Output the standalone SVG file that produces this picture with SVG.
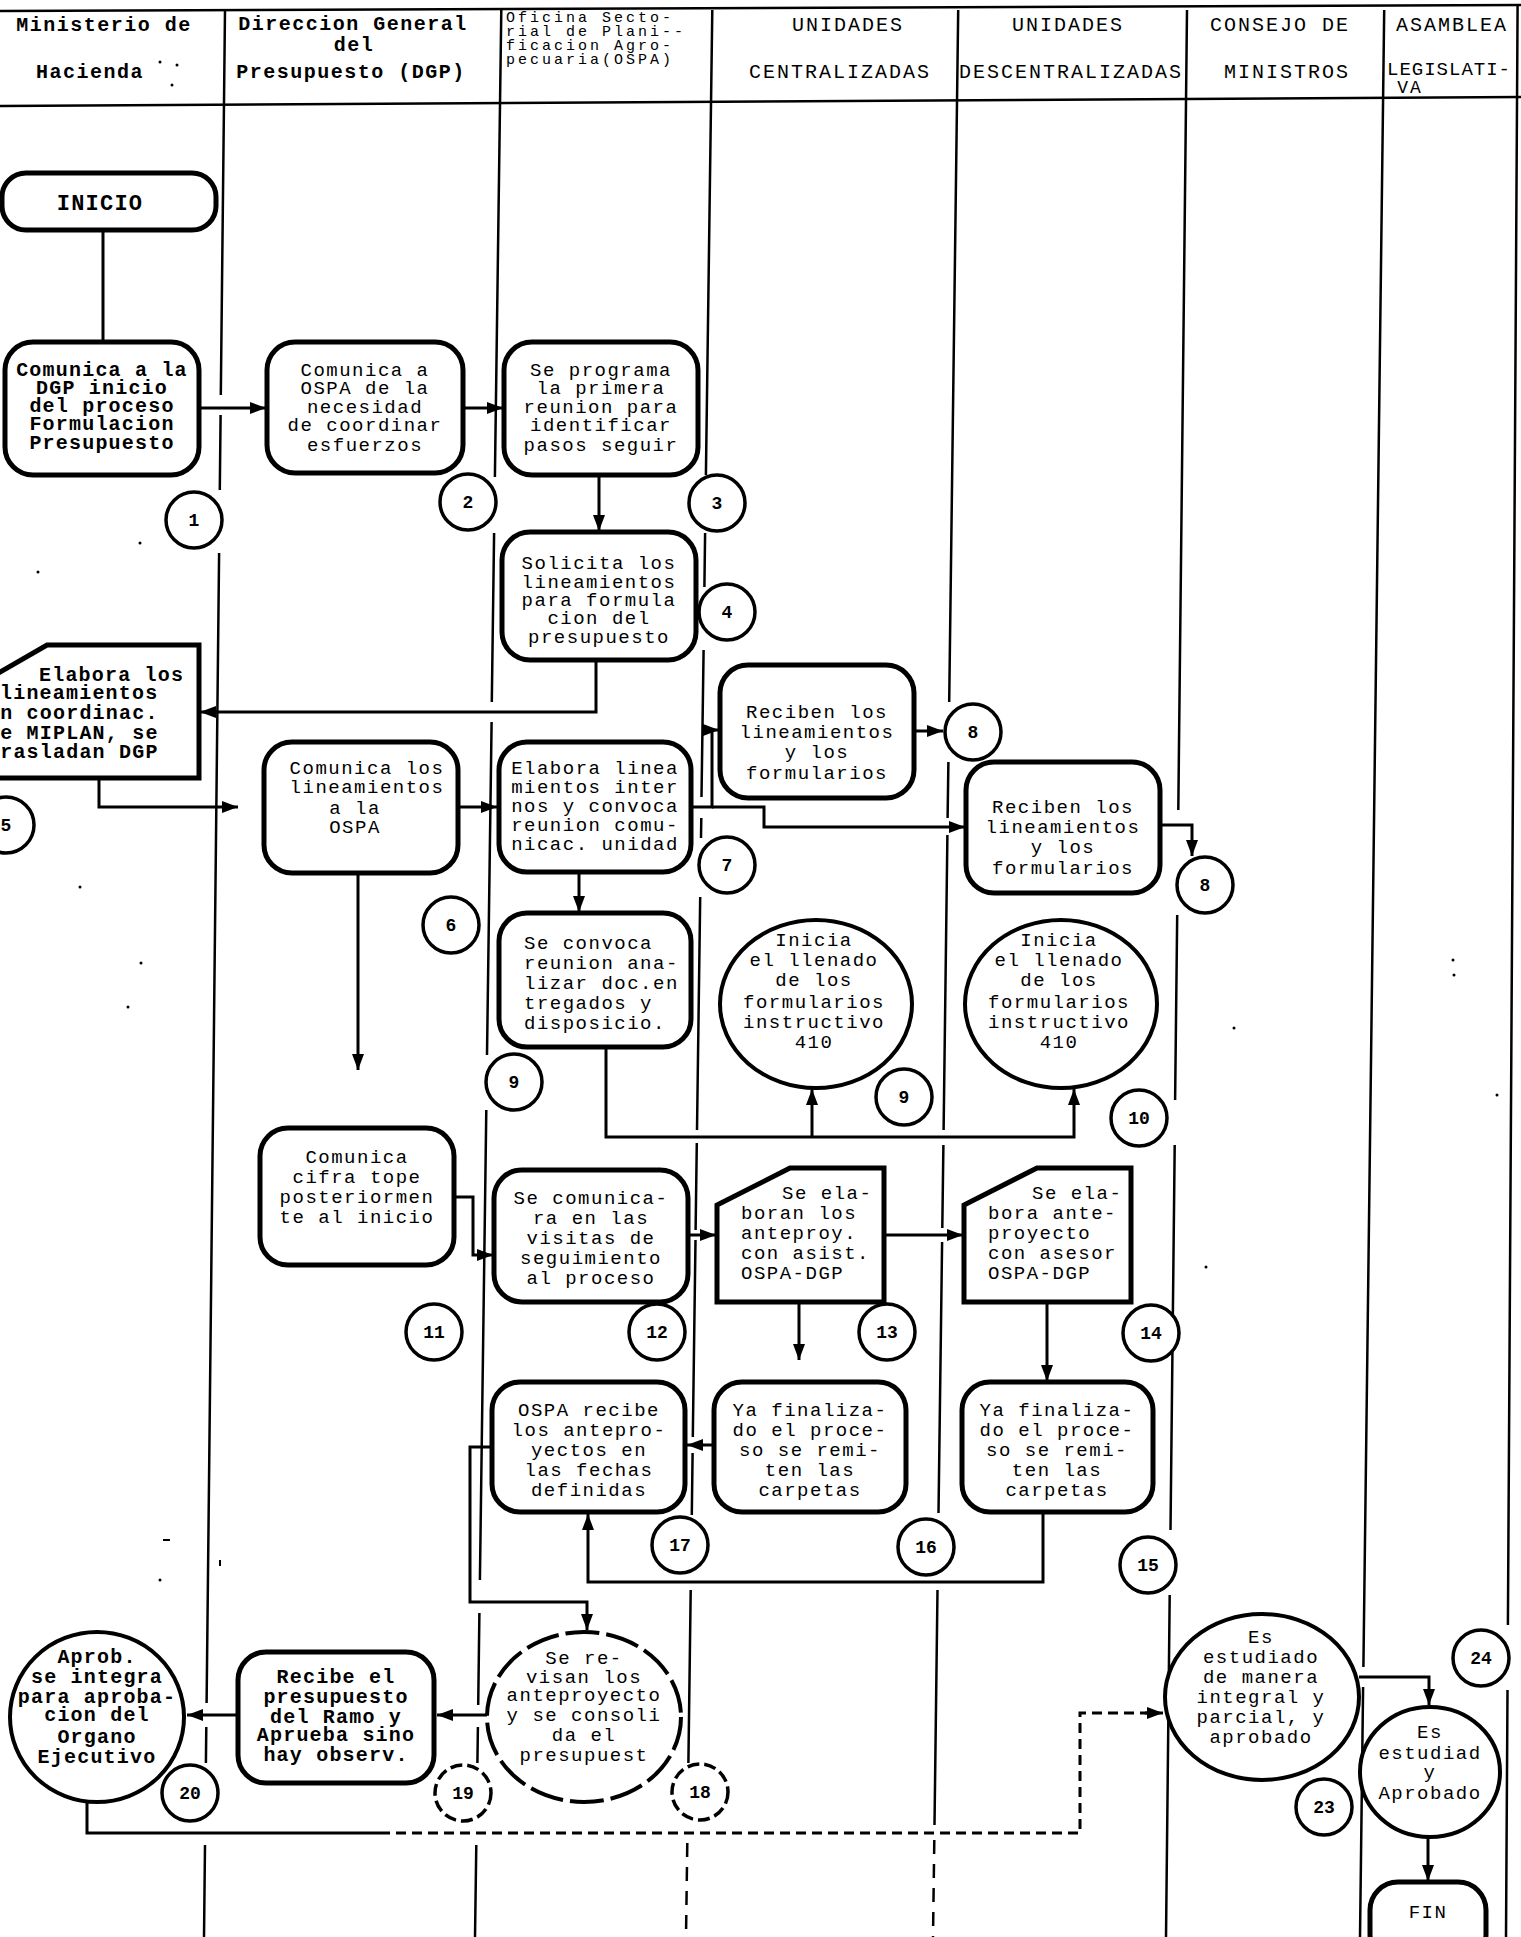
<svg xmlns="http://www.w3.org/2000/svg" width="1521" height="1937" viewBox="0 0 1521 1937">
<defs>
<style>
.ln{stroke:#000;stroke-width:2.5;fill:none}
.dl{stroke:#000;stroke-width:2.5;fill:none;stroke-dasharray:14 10}
.bx{stroke:#000;stroke-width:5;fill:#fff}
.el{stroke:#000;stroke-width:4;fill:#fff}
.ed{stroke:#000;stroke-width:4;fill:#fff;stroke-dasharray:34 7}
.nc{stroke:#000;stroke-width:3.5;fill:#fff}
.nd{stroke:#000;stroke-width:3.5;fill:#fff;stroke-dasharray:12 5}
.cn{stroke:#000;stroke-width:3;fill:none;marker-end:url(#ah)}
.cp{stroke:#000;stroke-width:3;fill:none}
.cd{stroke:#000;stroke-width:3;fill:none;stroke-dasharray:10 6}
text{font-family:"Liberation Mono","DejaVu Sans Mono",monospace;fill:#000}
.t{font-size:19px;letter-spacing:1.5px;text-anchor:middle}
.tl{font-size:19px;letter-spacing:1.5px;text-anchor:start}
.b{font-size:20px;letter-spacing:1.2px;font-weight:bold;text-anchor:middle}
.bl{font-size:20px;letter-spacing:1.2px;font-weight:bold;text-anchor:start}
.n{font-size:18px;font-weight:bold;text-anchor:middle}
.h{font-size:20px;letter-spacing:2px;text-anchor:middle}
.hb{font-size:20px;letter-spacing:1.5px;font-weight:bold;text-anchor:middle}
.hs{font-size:15px;letter-spacing:3px;text-anchor:start}
</style>
<marker id="ah" viewBox="0 0 16 12" refX="16" refY="6" markerWidth="16" markerHeight="12" markerUnits="userSpaceOnUse" orient="auto"><path d="M0,0 L16,6 L0,12 Z" fill="#000"/></marker>
</defs>
<rect width="1521" height="1937" fill="#fff"/>

<g id="header">
<path class="ln" d="M0,11 L1521,5"/>
<path class="ln" d="M0,106 L1521,97"/>
<text class="hb" x="104" y="31">Ministerio de</text>
<text class="hb" x="90" y="78">Hacienda</text>
<text class="hb" x="353" y="30">Direccion General</text>
<text class="hb" x="354" y="51">del</text>
<text class="hb" x="351" y="78">Presupuesto (DGP)</text>
<text class="hs" x="506" y="22">Oficina Secto-</text>
<text class="hs" x="506" y="36">rial de Plani--</text>
<text class="hs" x="506" y="50">ficacion Agro-</text>
<text class="hs" x="506" y="64">pecuaria(OSPA)</text>
<text class="h" x="848" y="31">UNIDADES</text>
<text class="h" x="840" y="78">CENTRALIZADAS</text>
<text class="h" x="1068" y="31">UNIDADES</text>
<text class="h" x="1071" y="78">DESCENTRALIZADAS</text>
<text class="h" x="1280" y="31">CONSEJO DE</text>
<text class="h" x="1287" y="78">MINISTROS</text>
<text class="h" x="1452" y="31">ASAMBLEA</text>
<text x="1387" y="75" style="font-size:19px;letter-spacing:1px">LEGISLATI-</text>
<text class="h" x="1410" y="93" style="font-size:18px">VA</text>
</g>

<g id="lanes">
<path class="ln" d="M225,10 L220.8,395 M220.6,415 L219.8,490 M219.1,553 L206.6,1703 M206.3,1727 L205.9,1763 M205,1845 L204,1937"/>
<path class="ln" d="M501.3,10 L494.9,477 M494.1,533 L491.8,702 M491.6,722 L487,1055 M486.3,1110 L479.9,1580 M479.4,1613 L478.2,1705 M477.9,1727 L477.4,1763 M476.3,1845 L475,1937"/>
<path class="ln" d="M712.3,10 L705.9,475 M705.1,533 L704.4,587 M703.6,650 L701.5,797 M701.3,818 L701,838 M700.2,897 L697,1130 M696.8,1143 L695.6,1230 M695.5,1240 L692.8,1437 M692.6,1453 L691.8,1515 M690.7,1590 L688.4,1763"/>
<path class="dl" d="M687.3,1843 L686,1937"/>
<path class="ln" d="M958.2,10 L949.2,702 M948.4,762 L947.6,818 M947.4,835 L943.6,1130 M943.4,1145 L942.3,1228 M942.1,1242 L938.5,1513 M937.5,1590 L934.5,1825"/>
<path class="dl" d="M934.3,1840 L933,1937"/>
<path class="ln" d="M1187,10 L1178.3,810 M1177.2,915 L1175.1,1100 M1174.7,1145 L1170.5,1530 M1169.7,1595 L1166,1937"/>
<path class="ln" d="M1384.2,10 L1363.4,1667 M1363.1,1687 L1360,1937"/>
<path class="ln" d="M1517.6,5 L1507.9,1625 M1507.5,1690 L1506,1937"/>
</g>

<g id="connectors">
<path class="cp" d="M103,230 V342"/>
<path class="cn" d="M199,408 H266"/>
<path class="cn" d="M463,408 H503"/>
<path class="cn" d="M599,475 V531"/>
<path class="cn" d="M596,660 V712 H200"/>
<path class="cn" d="M99,778 V807 H238"/>
<path class="cn" d="M458,807 H497"/>
<path class="cn" d="M358,873 V1070"/>
<path class="cn" d="M691,807 H712 V730 H719"/>
<path class="cn" d="M712,807 H764 V827 H965"/>
<path class="cn" d="M914,731 H943"/>
<path class="cn" d="M1160,825 H1192 V856"/>
<path class="cn" d="M579,872 V912"/>
<path class="cn" d="M606,1047 V1137 H1074 V1089"/>
<path class="cn" d="M812,1137 V1089"/>
<path class="cn" d="M454,1197 H473 V1255 H493"/>
<path class="cn" d="M688,1235 H716"/>
<path class="cn" d="M884,1235 H963"/>
<path class="cn" d="M799,1302 V1360"/>
<path class="cn" d="M1047,1302 V1381"/>
<path class="cn" d="M714,1445 H687"/>
<path class="cn" d="M1043,1512 V1582 H588 V1514"/>
<path class="cn" d="M492,1447 H470 V1602 H587 V1630"/>
<path class="cn" d="M487,1715 H437"/>
<path class="cn" d="M238,1715 H187"/>
<path class="cp" d="M87,1802 V1833 H380"/>
<path class="cd" d="M380,1833 H1080 V1713 H1150"/>
<path class="cn" d="M1145,1713 H1163"/>
<path class="cn" d="M1359,1677 H1429 V1705"/>
<path class="cn" d="M1428,1837 V1881"/>
</g>

<g id="n-inicio">
<rect class="bx" x="2" y="173" width="214" height="57" rx="24"/>
<text class="b" x="100" y="210" style="font-size:22px">INICIO</text>
</g>

<g id="n1">
<rect class="bx" x="5" y="342" width="194" height="133" rx="28"/>
<text class="b" x="102" y="376">Comunica a la</text>
<text class="b" x="102" y="394">DGP inicio</text>
<text class="b" x="102" y="412">del proceso</text>
<text class="b" x="102" y="430">Formulacion</text>
<text class="b" x="102" y="449">Presupuesto</text>
</g>
<g id="c1"><ellipse class="nc" cx="194" cy="520" rx="28" ry="28"/><text class="n" x="194" y="526">1</text></g>

<g id="n2">
<rect class="bx" x="267" y="342" width="196" height="131" rx="28"/>
<text class="t" x="365" y="376">Comunica a</text>
<text class="t" x="365" y="394">OSPA de la</text>
<text class="t" x="365" y="413">necesidad</text>
<text class="t" x="365" y="431">de coordinar</text>
<text class="t" x="365" y="451">esfuerzos</text>
</g>
<g id="c2"><ellipse class="nc" cx="468" cy="502" rx="28" ry="28"/><text class="n" x="468" y="508">2</text></g>

<g id="n3">
<rect class="bx" x="504" y="342" width="194" height="133" rx="28"/>
<text class="t" x="601" y="376">Se programa</text>
<text class="t" x="601" y="394">la primera</text>
<text class="t" x="601" y="413">reunion para</text>
<text class="t" x="601" y="431">identificar</text>
<text class="t" x="601" y="451">pasos seguir</text>
</g>
<g id="c3"><ellipse class="nc" cx="717" cy="503" rx="28" ry="28"/><text class="n" x="717" y="509">3</text></g>

<g id="n4">
<rect class="bx" x="502" y="532" width="194" height="128" rx="28"/>
<text class="t" x="599" y="569">Solicita los</text>
<text class="t" x="599" y="588">lineamientos</text>
<text class="t" x="599" y="606">para formula</text>
<text class="t" x="599" y="624">cion del</text>
<text class="t" x="599" y="643">presupuesto</text>
</g>
<g id="c4"><ellipse class="nc" cx="727" cy="612" rx="28" ry="28"/><text class="n" x="727" y="618">4</text></g>

<g id="n5">
<path class="bx" d="M47,645 L199,645 L199,778 L-5,778 L-5,675 Z"/>
<text class="bl" x="39" y="681">Elabora los</text>
<text class="bl" x="0" y="699">lineamientos</text>
<text class="bl" x="-13" y="719">en coordinac.</text>
<text class="bl" x="-13" y="739">de MIPLAN, se</text>
<text class="bl" x="-13" y="758">trasladan DGP</text>
</g>
<g id="c5"><ellipse class="nc" cx="6" cy="825" rx="28" ry="28"/><text class="n" x="6" y="831">5</text></g>

<g id="n6">
<rect class="bx" x="264" y="742" width="194" height="131" rx="28"/>
<text class="t" x="367" y="774">Comunica los</text>
<text class="t" x="367" y="793">lineamientos</text>
<text class="t" x="355" y="814">a la</text>
<text class="t" x="355" y="833">OSPA</text>
</g>
<g id="c6"><ellipse class="nc" cx="451" cy="925" rx="28" ry="28"/><text class="n" x="451" y="931">6</text></g>

<g id="n7">
<rect class="bx" x="499" y="742" width="192" height="130" rx="28"/>
<text class="t" x="595" y="774">Elabora linea</text>
<text class="t" x="595" y="793">mientos inter</text>
<text class="t" x="595" y="812">nos y convoca</text>
<text class="t" x="595" y="831">reunion comu-</text>
<text class="t" x="595" y="850">nicac. unidad</text>
</g>
<g id="c7"><ellipse class="nc" cx="727" cy="865" rx="28" ry="28"/><text class="n" x="727" y="871">7</text></g>

<g id="n8a">
<rect class="bx" x="720" y="665" width="194" height="133" rx="28"/>
<text class="t" x="817" y="718">Reciben los</text>
<text class="t" x="817" y="738">lineamientos</text>
<text class="t" x="817" y="758">y los</text>
<text class="t" x="817" y="779">formularios</text>
</g>
<g id="c8a"><ellipse class="nc" cx="973" cy="732" rx="28" ry="28"/><text class="n" x="973" y="738">8</text></g>

<g id="n8b">
<rect class="bx" x="966" y="762" width="194" height="131" rx="28"/>
<text class="t" x="1063" y="813">Reciben los</text>
<text class="t" x="1063" y="833">lineamientos</text>
<text class="t" x="1063" y="853">y los</text>
<text class="t" x="1063" y="874">formularios</text>
</g>
<g id="c8b"><ellipse class="nc" cx="1205" cy="885" rx="28" ry="28"/><text class="n" x="1205" y="891">8</text></g>

<g id="n9">
<rect class="bx" x="499" y="913" width="192" height="134" rx="28"/>
<text class="tl" x="524" y="949">Se convoca</text>
<text class="tl" x="524" y="969">reunion ana-</text>
<text class="tl" x="524" y="989">lizar doc.en</text>
<text class="tl" x="524" y="1009">tregados y</text>
<text class="tl" x="524" y="1029">disposicio.</text>
</g>
<g id="c9a"><ellipse class="nc" cx="514" cy="1082" rx="28" ry="28"/><text class="n" x="514" y="1088">9</text></g>

<g id="n9b">
<ellipse class="el" cx="816" cy="1004" rx="96" ry="84"/>
<text class="t" x="814" y="946">Inicia</text>
<text class="t" x="814" y="966">el llenado</text>
<text class="t" x="814" y="986">de los</text>
<text class="t" x="814" y="1008">formularios</text>
<text class="t" x="814" y="1028">instructivo</text>
<text class="t" x="814" y="1048">410</text>
</g>
<g id="c9b"><ellipse class="nc" cx="904" cy="1097" rx="28" ry="28"/><text class="n" x="904" y="1103">9</text></g>

<g id="n10">
<ellipse class="el" cx="1061" cy="1004" rx="96" ry="84"/>
<text class="t" x="1059" y="946">Inicia</text>
<text class="t" x="1059" y="966">el llenado</text>
<text class="t" x="1059" y="986">de los</text>
<text class="t" x="1059" y="1008">formularios</text>
<text class="t" x="1059" y="1028">instructivo</text>
<text class="t" x="1059" y="1048">410</text>
</g>
<g id="c10"><ellipse class="nc" cx="1139" cy="1118" rx="28" ry="28"/><text class="n" x="1139" y="1124">10</text></g>

<g id="n11">
<rect class="bx" x="260" y="1128" width="194" height="137" rx="28"/>
<text class="t" x="357" y="1163">Comunica</text>
<text class="t" x="357" y="1183">cifra tope</text>
<text class="t" x="357" y="1203">posteriormen</text>
<text class="t" x="357" y="1223">te al inicio</text>
</g>
<g id="c11"><ellipse class="nc" cx="434" cy="1332" rx="28" ry="28"/><text class="n" x="434" y="1338">11</text></g>

<g id="n12">
<rect class="bx" x="494" y="1170" width="194" height="132" rx="28"/>
<text class="t" x="591" y="1204">Se comunica-</text>
<text class="t" x="591" y="1224">ra en las</text>
<text class="t" x="591" y="1244">visitas de</text>
<text class="t" x="591" y="1264">seguimiento</text>
<text class="t" x="591" y="1284">al proceso</text>
</g>
<g id="c12"><ellipse class="nc" cx="657" cy="1332" rx="28" ry="28"/><text class="n" x="657" y="1338">12</text></g>

<g id="n13">
<path class="bx" d="M790,1168 H884 V1302 H717 V1205 Z"/>
<text class="tl" x="782" y="1199">Se ela-</text>
<text class="tl" x="741" y="1219">boran los</text>
<text class="tl" x="741" y="1239">anteproy.</text>
<text class="tl" x="741" y="1259">con asist.</text>
<text class="tl" x="741" y="1279">OSPA-DGP</text>
</g>
<g id="c13"><ellipse class="nc" cx="887" cy="1332" rx="28" ry="28"/><text class="n" x="887" y="1338">13</text></g>

<g id="n14">
<path class="bx" d="M1037,1168 H1131 V1302 H964 V1205 Z"/>
<text class="tl" x="1032" y="1199">Se ela-</text>
<text class="tl" x="988" y="1219">bora ante-</text>
<text class="tl" x="988" y="1239">proyecto</text>
<text class="tl" x="988" y="1259">con asesor</text>
<text class="tl" x="988" y="1279">OSPA-DGP</text>
</g>
<g id="c14"><ellipse class="nc" cx="1151" cy="1333" rx="28" ry="28"/><text class="n" x="1151" y="1339">14</text></g>

<g id="n17">
<rect class="bx" x="492" y="1382" width="193" height="130" rx="28"/>
<text class="t" x="589" y="1416">OSPA recibe</text>
<text class="t" x="589" y="1436">los antepro-</text>
<text class="t" x="589" y="1456">yectos en</text>
<text class="t" x="589" y="1476">las fechas</text>
<text class="t" x="589" y="1496">definidas</text>
</g>
<g id="c17"><ellipse class="nc" cx="680" cy="1545" rx="28" ry="28"/><text class="n" x="680" y="1551">17</text></g>

<g id="n16">
<rect class="bx" x="714" y="1382" width="192" height="130" rx="28"/>
<text class="t" x="810" y="1416">Ya finaliza-</text>
<text class="t" x="810" y="1436">do el proce-</text>
<text class="t" x="810" y="1456">so se remi-</text>
<text class="t" x="810" y="1476">ten las</text>
<text class="t" x="810" y="1496">carpetas</text>
</g>
<g id="c16"><ellipse class="nc" cx="926" cy="1547" rx="28" ry="28"/><text class="n" x="926" y="1553">16</text></g>

<g id="n15">
<rect class="bx" x="962" y="1382" width="191" height="130" rx="28"/>
<text class="t" x="1057" y="1416">Ya finaliza-</text>
<text class="t" x="1057" y="1436">do el proce-</text>
<text class="t" x="1057" y="1456">so se remi-</text>
<text class="t" x="1057" y="1476">ten las</text>
<text class="t" x="1057" y="1496">carpetas</text>
</g>
<g id="c15"><ellipse class="nc" cx="1148" cy="1565" rx="28" ry="28"/><text class="n" x="1148" y="1571">15</text></g>

<g id="n18">
<ellipse class="ed" cx="584" cy="1717" rx="97" ry="85"/>
<text class="t" x="584" y="1664">Se re-</text>
<text class="t" x="584" y="1683">visan los</text>
<text class="t" x="584" y="1701">anteproyecto</text>
<text class="t" x="584" y="1721">y se consoli</text>
<text class="t" x="584" y="1741">da el</text>
<text class="t" x="584" y="1761">presupuest</text>
</g>
<g id="c18"><ellipse class="nd" cx="700" cy="1792" rx="28" ry="28"/><text class="n" x="700" y="1798">18</text></g>

<g id="n19">
<rect class="bx" x="238" y="1652" width="196" height="131" rx="28"/>
<text class="b" x="336" y="1683">Recibe el</text>
<text class="b" x="336" y="1703">presupuesto</text>
<text class="b" x="336" y="1723">del Ramo y</text>
<text class="b" x="336" y="1741">Aprueba sino</text>
<text class="b" x="336" y="1761">hay observ.</text>
</g>
<g id="c19"><ellipse class="nd" cx="463" cy="1793" rx="28" ry="28"/><text class="n" x="463" y="1799">19</text></g>

<g id="n20">
<ellipse class="el" cx="97" cy="1717" rx="87" ry="85"/>
<text class="b" x="97" y="1663">Aprob.</text>
<text class="b" x="97" y="1683">se integra</text>
<text class="b" x="97" y="1703">para aproba-</text>
<text class="b" x="97" y="1721">cion del</text>
<text class="b" x="97" y="1743">Organo</text>
<text class="b" x="97" y="1763">Ejecutivo</text>
</g>
<g id="c20"><ellipse class="nc" cx="190" cy="1793" rx="28" ry="28"/><text class="n" x="190" y="1799">20</text></g>

<g id="n23">
<ellipse class="el" cx="1262" cy="1697" rx="97" ry="83"/>
<text class="t" x="1261" y="1643">Es</text>
<text class="t" x="1261" y="1663">estudiado</text>
<text class="t" x="1261" y="1683">de manera</text>
<text class="t" x="1261" y="1703">integral y</text>
<text class="t" x="1261" y="1723">parcial, y</text>
<text class="t" x="1261" y="1743">aprobado</text>
</g>
<g id="c23"><ellipse class="nc" cx="1324" cy="1807" rx="28" ry="28"/><text class="n" x="1324" y="1813">23</text></g>

<g id="n24">
<ellipse class="el" cx="1430" cy="1772" rx="70" ry="65"/>
<text class="t" x="1430" y="1738">Es</text>
<text class="t" x="1430" y="1759">estudiad</text>
<text class="t" x="1430" y="1778">y</text>
<text class="t" x="1430" y="1799">Aprobado</text>
</g>
<g id="c24"><ellipse class="nc" cx="1481" cy="1658" rx="28" ry="28"/><text class="n" x="1481" y="1664">24</text></g>

<g id="n-fin">
<rect class="bx" x="1370" y="1882" width="116" height="80" rx="28"/>
<text class="t" x="1428" y="1918">FIN</text>
</g>

<g id="specks" fill="#000">
<circle cx="160" cy="62" r="1.5"/><circle cx="177" cy="65" r="1.5"/><circle cx="172" cy="85" r="1.5"/>
<circle cx="140" cy="543" r="1.5"/><circle cx="38" cy="572" r="1.5"/><circle cx="80" cy="887" r="1.5"/>
<circle cx="141" cy="963" r="1.5"/><circle cx="128" cy="1007" r="1.5"/><rect x="163" y="1539" width="7" height="2"/>
<circle cx="160" cy="1580" r="1.5"/><rect x="219" y="1560" width="2" height="6"/>
<circle cx="1453" cy="960" r="1.5"/><circle cx="1454" cy="975" r="1.5"/><circle cx="1234" cy="1028" r="1.5"/>
<circle cx="1497" cy="1095" r="1.5"/><circle cx="1206" cy="1267" r="1.5"/>
</g>
</svg>
